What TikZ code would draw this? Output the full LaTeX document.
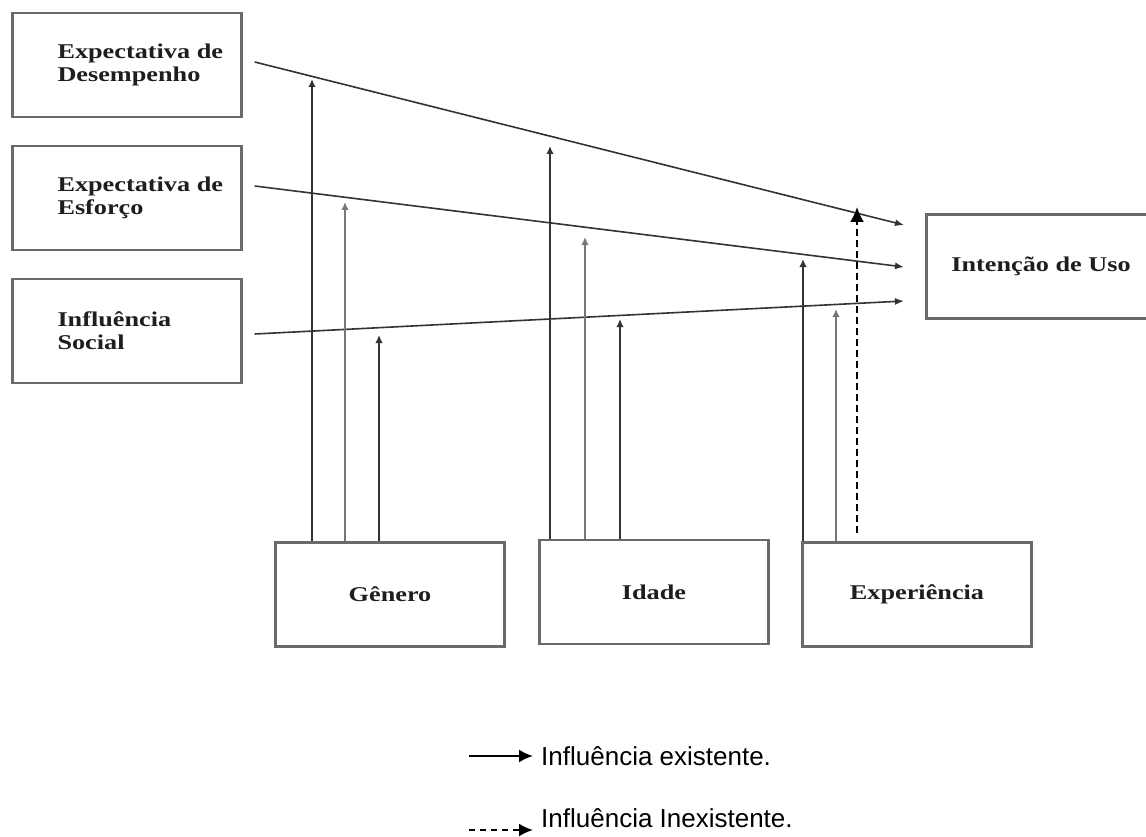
\documentclass[tikz,border=0pt]{standalone}
\usepackage{fontspec}
\setmainfont{Liberation Serif}
\newfontfamily\labelfont{Liberation Serif}[FakeStretch=1.25]
\newfontfamily\legendfont{Liberation Sans}
\usetikzlibrary{arrows.meta}

\definecolor{boxgray}{HTML}{6A6A6A}
\definecolor{ink}{HTML}{1E1E1E}
\definecolor{darkline}{HTML}{333333}
\definecolor{lightline}{HTML}{777777}

\begin{document}
\begin{tikzpicture}[x=1pt,y=-1pt,
  box/.style={draw=boxgray, line width=2.4pt, minimum width=229pt,
    minimum height=104pt, inner sep=0pt, text=ink,
    font=\labelfont\bfseries\fontsize{21}{23}\selectfont},
  boxlabel/.style={anchor=west, xshift=46pt, align=left, inner sep=0pt,
    text=ink, font=\labelfont\bfseries\fontsize{21}{23}\selectfont},
  link/.style={draw=darkline, line width=1.6pt, -{Latex[length=9pt,width=7pt]}},
  mod/.style={draw=darkline, line width=1.8pt, -{Latex[length=8pt,width=7.5pt]}},
  modlight/.style={mod, draw=lightline, line width=2pt},
  nomod/.style={draw=black, line width=2pt, dash pattern=on 7pt off 4pt,
    -{Latex[length=15pt,width=14pt]}},
  legendtext/.style={anchor=base west, inner sep=0pt, text=black,
    font=\legendfont\fontsize{26}{30}\selectfont},
  legendarrow/.style={draw=black, line width=2pt, -{Latex[length=14pt,width=13pt]}}
]
\useasboundingbox (0,0) rectangle (1146,837);
\fill[white] (0,0) rectangle (1146,837);
\clip (0,0) rectangle (1146,837);

% predictor boxes on the left
\node[box, label={[boxlabel]west:Expectativa de\\Desempenho}] (de) at (127,65) {};
\node[box, label={[boxlabel]west:Expectativa de\\Esforço}] (ee) at (127,198) {};
\node[box, label={[boxlabel]west:Influência\\Social}] (is) at (127,331) {};

% outcome box (runs past the right edge)
\node[box] (iu) at (1041,266.5) {Intenção de Uso};

% moderator boxes along the bottom
\node[box] (gen) at (390,594.5) {Gênero};
\node[box] (ida) at (654,592) {Idade};
\node[box] (exp) at (917,594.5) {Experiência};

% ends of the three main paths
\coordinate (a1) at (904,225);
\coordinate (a2) at (904,267);
\coordinate (a3) at (904,301);
\draw[link] ([xshift=12pt,yshift=3pt]de.east) -- (a1);
\draw[link] ([xshift=12pt,yshift=12pt]ee.east) -- (a2);
\draw[link] ([xshift=12pt,yshift=-3pt]is.east) -- (a3);

% moderating arrows from Gênero
\coordinate (g1) at (312,79);
\coordinate (g2) at (345,202);
\coordinate (g3) at (379,335);
\draw[mod] (gen.north -| g1) -- (g1);
\draw[modlight] (gen.north -| g2) -- (g2);
\draw[mod] (gen.north -| g3) -- (g3);

% moderating arrows from Idade
\coordinate (i1) at (550,146);
\coordinate (i2) at (585,237);
\coordinate (i3) at (620,319);
\draw[mod] (ida.north -| i1) -- (i1);
\draw[modlight] (ida.north -| i2) -- (i2);
\draw[mod] (ida.north -| i3) -- (i3);

% moderating arrows from Experiência (the first one rises from the left edge)
\coordinate (e1) at (803,259);
\coordinate (e2) at (836,309);
\coordinate (e3) at (857,207);
\draw[mod] (exp.north -| e1) -- (e1);
\draw[modlight] (exp.north -| e2) -- (e2);
\draw[nomod] ([yshift=8pt]exp.north -| e3) -- (e3);

% legend
\node[legendtext] (l1) at (541,765) {Influência existente.};
\node[legendtext] (l2) at (541,827) {Influência Inexistente.};
\draw[legendarrow] ([xshift=-72pt,yshift=9pt]l1.base west) -- ([xshift=-8pt,yshift=9pt]l1.base west);
\draw[legendarrow, dash pattern=on 6pt off 5pt] ([xshift=-72pt,yshift=-3pt]l2.base west) -- ([xshift=-8pt,yshift=-3pt]l2.base west);
\end{tikzpicture}
\end{document}
